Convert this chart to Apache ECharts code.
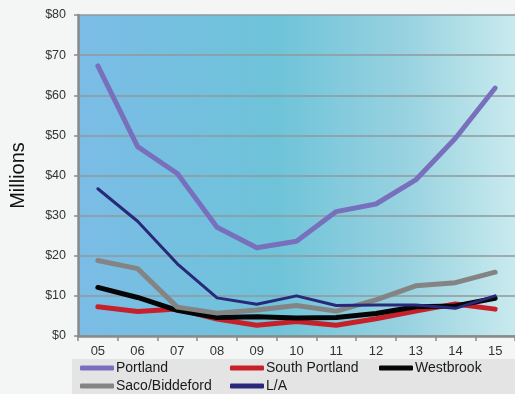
<!DOCTYPE html>
<html>
<head>
<meta charset="utf-8">
<script src="https://cdn.jsdelivr.net/npm/echarts@6/dist/echarts.min.js"></script>
<style>
  html, body { margin: 0; padding: 0; background: #f4f6f6; }
  #chart { width: 515px; height: 394px; }
</style>
</head>
<body>
<div id="chart"></div>
<script>
// Fiscal years (two-digit labels)
const years = ['05', '06', '07', '08', '09', '10', '11', '12', '13', '14', '15'];

// Annual values, millions of dollars
const portland      = [67.3, 47.2, 40.5, 27.1, 22.0, 23.6, 31.0, 32.9, 38.9, 49.3, 61.8];
const southPortland = [7.3, 6.1, 6.7, 4.2, 2.7, 3.6, 2.7, 4.3, 6.2, 8.0, 6.7];
const westbrook     = [12.1, 9.6, 6.4, 4.6, 4.8, 4.5, 4.6, 5.6, 7.3, 7.5, 9.4];
const sacoBiddeford = [18.8, 16.8, 7.2, 5.7, 6.5, 7.6, 6.2, 9.0, 12.5, 13.3, 15.9];
const lewistonAuburn = [36.7, 28.6, 18.0, 9.5, 7.9, 10.0, 7.6, 7.7, 7.7, 6.9, 10.0];

// Value axis ticks
const yMin = 0, yMax = 80, yStep = 10;

const seriesDefs = [
  { name: 'Portland',        data: portland,       color: '#7870bd', width: 5 },
  { name: 'South Portland',  data: southPortland,  color: '#c8202a', width: 5 },
  { name: 'Westbrook',       data: westbrook,      color: '#050505', width: 5 },
  { name: 'Saco/Biddeford',  data: sacoBiddeford,  color: '#848484', width: 5 },
  { name: 'L/A',             data: lewistonAuburn, color: '#2a2878', width: 3 }
];

const font = 'Liberation Sans, Arial, sans-serif';

function legendCol(left, names) {
  return {
    left: left, top: 361, height: 60, padding: 0, orient: 'vertical', itemGap: 4,
    itemWidth: 34, itemHeight: 5, icon: 'roundRect', itemStyle: { borderWidth: 0 },
    textStyle: { fontFamily: font, fontSize: 14, color: '#1a1a1a', padding: [0, 0, 0, -3] },
    data: names,
    selectedMode: false
  };
}

const chart = echarts.init(document.getElementById('chart'), null, { renderer: 'canvas' });
chart.setOption({
  backgroundColor: '#f4f6f6',
  animation: false,
  graphic: [
    { type: 'rect', shape: { x: 72, y: 359, width: 443, height: 35 }, style: { fill: '#e4e4e4' }, z: -1 }
  ],
  grid: {
    left: 72, right: 0, top: 15, bottom: 58, show: true, borderWidth: 0,
    backgroundColor: new echarts.graphic.LinearGradient(0, 0, 1, 0, [
      { offset: 0, color: '#7bbce6' },
      { offset: 0.45, color: '#6ec3d9' },
      { offset: 0.75, color: '#98d2e0' },
      { offset: 1, color: '#c8eaee' }
    ])
  },
  legend: [
    legendCol(80, ['Portland', 'Saco/Biddeford']),
    legendCol(230, ['South Portland', 'L/A']),
    legendCol(379, ['Westbrook'])
  ],
  xAxis: {
    type: 'category', data: years, boundaryGap: true,
    axisLine: { lineStyle: { color: '#8a8a8a', width: 2.5 } },
    axisTick: { show: true, length: 5, lineStyle: { color: '#8a8a8a', width: 1.5 } },
    axisLabel: { fontFamily: font, fontSize: 13, color: '#333', margin: 9 }
  },
  yAxis: {
    type: 'value', min: yMin, max: yMax, interval: yStep,
    name: 'Millions', nameLocation: 'middle', nameGap: 50, nameRotate: 90,
    nameTextStyle: { fontFamily: font, fontSize: 20, color: '#111' },
    axisLine: { show: true, lineStyle: { color: '#8a8a8a', width: 2.5 } },
    axisTick: { show: true, length: 4, lineStyle: { color: '#8a8a8a', width: 1.5 } },
    axisLabel: { fontFamily: font, fontSize: 12.5, color: '#333', margin: 12, formatter: v => '$' + v },
    splitLine: { lineStyle: { color: '#8f9a9c', width: 1.5 } }
  },
  series: seriesDefs.map(s => ({
    name: s.name, type: 'line', data: s.data, symbol: 'none',
    color: s.color,
    lineStyle: { color: s.color, width: s.width, join: 'round', cap: 'round' }
  }))
});
</script>
</body>
</html>
